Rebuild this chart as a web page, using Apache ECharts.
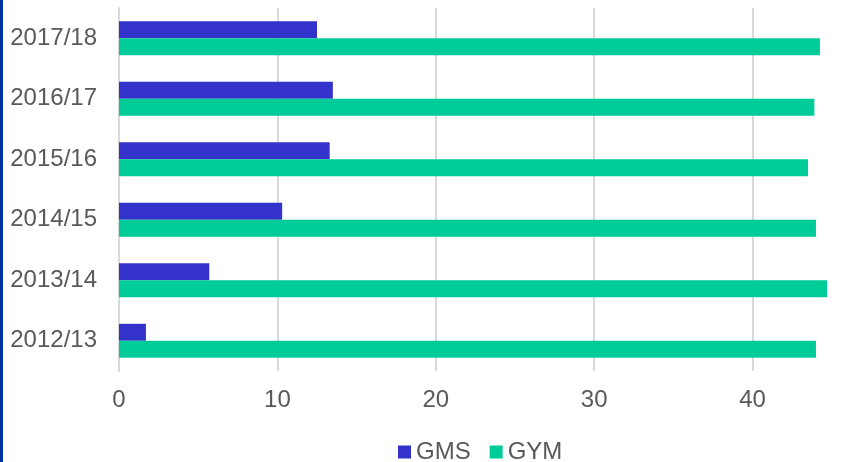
<!DOCTYPE html>
<html><head><meta charset="utf-8">
<script src="https://cdn.jsdelivr.net/npm/echarts@6/dist/echarts.min.js"></script>
<style>html,body{margin:0;padding:0;background:#fff}#c{width:847px;height:462px}</style>
</head><body><div id="c"></div>
<script>
const categories = ['2012/13','2013/14','2014/15','2015/16','2016/17','2017/18'];
const gms = [1.7, 5.7, 10.3, 13.3, 13.5, 12.5];
const gym = [44.0, 44.7, 44.0, 43.5, 43.9, 44.25];
const chart = echarts.init(document.getElementById('c'));
const font = 'Liberation Sans, Arial, sans-serif';
chart.setOption({
  animation: false,
  graphic: [{type:'rect', shape:{x:0,y:0,width:3,height:462}, style:{fill:'#0033a0'}}],
  legend: {
    left: 393, top: 435, itemWidth: 13, itemHeight: 13, itemGap: 19,
    icon: 'rect',
    textStyle: {fontFamily: font, fontSize: 24, color: '#595959'},
    data: ['GMS','GYM']
  },
  grid: {left: 119, top: 8, width: 792, height: 363, containLabel: false, outerBoundsMode: 'none'},
  xAxis: {
    type: 'value', min: 0, max: 50, interval: 10,
    axisLine: {show: false}, axisTick: {show: false},
    splitLine: {lineStyle: {color: '#d9d9d9', width: 2}},
    axisLabel: {fontFamily: font, fontSize: 24, color: '#595959', margin: 17}
  },
  yAxis: {
    type: 'category', data: categories,
    axisLine: {lineStyle: {color: '#d9d9d9', width: 2}},
    axisTick: {show: false},
    axisLabel: {fontFamily: font, fontSize: 24, color: '#595959', margin: 22}
  },
  series: [
    {name: 'GMS', type: 'bar', data: gms, itemStyle: {color: '#3333cc'}, barGap: '0%', barCategoryGap: '44%'},
    {name: 'GYM', type: 'bar', data: gym, itemStyle: {color: '#00cc99'}, barGap: '0%', barCategoryGap: '44%'}
  ]
});
</script></body></html>
